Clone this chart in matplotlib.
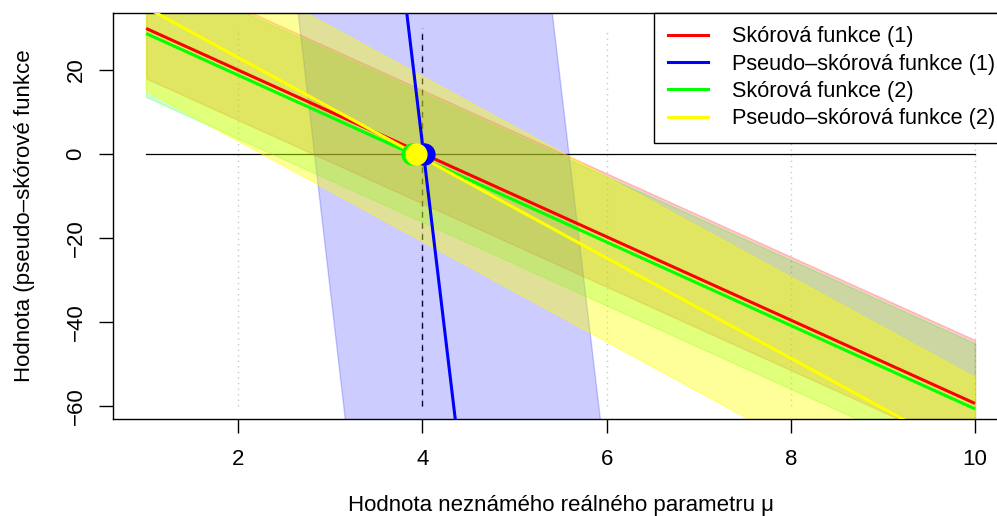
import matplotlib
matplotlib.use("Agg")
import matplotlib.pyplot as plt
from matplotlib.lines import Line2D

plt.rcParams['font.family'] = ['Liberation Sans', 'DejaVu Sans']

# ---- data (values at x = 1 and x = 10) ----
x_ends = [1, 10]
red_line = [29.9, -59.4]
red_lower = [18.0, -71.3]
red_upper = [45.0, -44.3]
blue_line = [553.4, -1099.9]
blue_lower = [345.6, -1356.0]
blue_upper = [851.2, -817.4]
green_line = [28.7, -60.7]
green_lower = [13.6, -75.8]
green_upper = [44.3, -45.1]
yellow_line = [34.9, -72.5]
yellow_lower = [15.0, -92.5]
yellow_upper = [54.3, -53.2]

roots = [4.01, 4.02, 3.89, 3.926]  # red, blue, green, yellow
labels = ["Skórová funkce (1)", "Pseudo\u2013skórová funkce (1)",
          "Skórová funkce (2)", "Pseudo\u2013skórová funkce (2)"]
colors = ["#ff0000", "#0000ff", "#00ff00", "#ffff00"]
band_alpha = [0.2, 0.2, 0.2, 0.4]

grid_x = [2, 4, 6, 8, 10]
true_mu = 4
seg_y = [-60, 30]
xticks = [2, 4, 6, 8, 10]
yticks = [-60, -40, -20, 0, 20]

FS = 16
LFS = 15.6

W, H = 997, 516
fig = plt.figure(figsize=(W / 100, H / 100), dpi=100)
ax_w = 895.2
ax = fig.add_axes([113 / W, 1 - 418.5 / H, ax_w / W, (418.5 - 13) / H])
ax.set_xlim(0.64, 10.36)
ax.set_ylim(-62.98, 33.58)

# background reference lines (drawn under bands)
for gx in grid_x:
    ax.plot([gx, gx], seg_y, color="#c8c8c8", lw=1.0, ls=(0, (1, 3)), zorder=1)
ax.plot([true_mu, true_mu], seg_y, color="black", lw=1.0, ls=(0, (4, 4)), zorder=1)
ax.plot(x_ends, [0, 0], color="black", lw=0.9, zorder=1)

lines = [red_line, blue_line, green_line, yellow_line]
lowers = [red_lower, blue_lower, green_lower, yellow_lower]
uppers = [red_upper, blue_upper, green_upper, yellow_upper]

for c, a, lo, up in zip(colors, band_alpha, lowers, uppers):
    ax.fill_between(x_ends, lo, up, facecolor=c, alpha=a, edgecolor=c,
                    linewidth=1.0, zorder=2)

for c, ln in zip(colors, lines):
    ax.plot(x_ends, ln, color=c, lw=2.2, zorder=3, solid_capstyle='butt')

for c, r in zip(colors, roots):
    ax.plot([r], [0], marker='o', ms=16, color=c, mec='none', zorder=4)

ax.set_xticks(xticks)
ax.set_yticks(yticks)
ax.set_yticklabels([("\u2212" if v < 0 else "") + str(abs(v)) for v in yticks])
ax.tick_params(direction='out', length=10, width=1.0, labelsize=FS, pad=12)
ax.tick_params(axis='y', pad=9)
plt.setp(ax.get_yticklabels(), rotation=90, va='center')
for s in ax.spines.values():
    s.set_linewidth(1.0)

ax.set_xlabel("Hodnota neznámého reálného parametru μ", fontsize=FS, labelpad=18)
ax.set_ylabel("Hodnota (pseudo\u2013skórové funkce", fontsize=FS, labelpad=22)

handles = [Line2D([0], [0], color=c, lw=2.2) for c in colors]
leg = ax.legend(handles, labels, loc='upper right',
                bbox_to_anchor=(1.0, 1), borderaxespad=0,
                fancybox=False, edgecolor='black', framealpha=1,
                fontsize=LFS, handlelength=1.85, handletextpad=1.1,
                labelspacing=0.29, borderpad=0.62)
leg.get_frame().set_linewidth(1.0)
leg.set_zorder(10)

fig.savefig("out.png", dpi=100)
